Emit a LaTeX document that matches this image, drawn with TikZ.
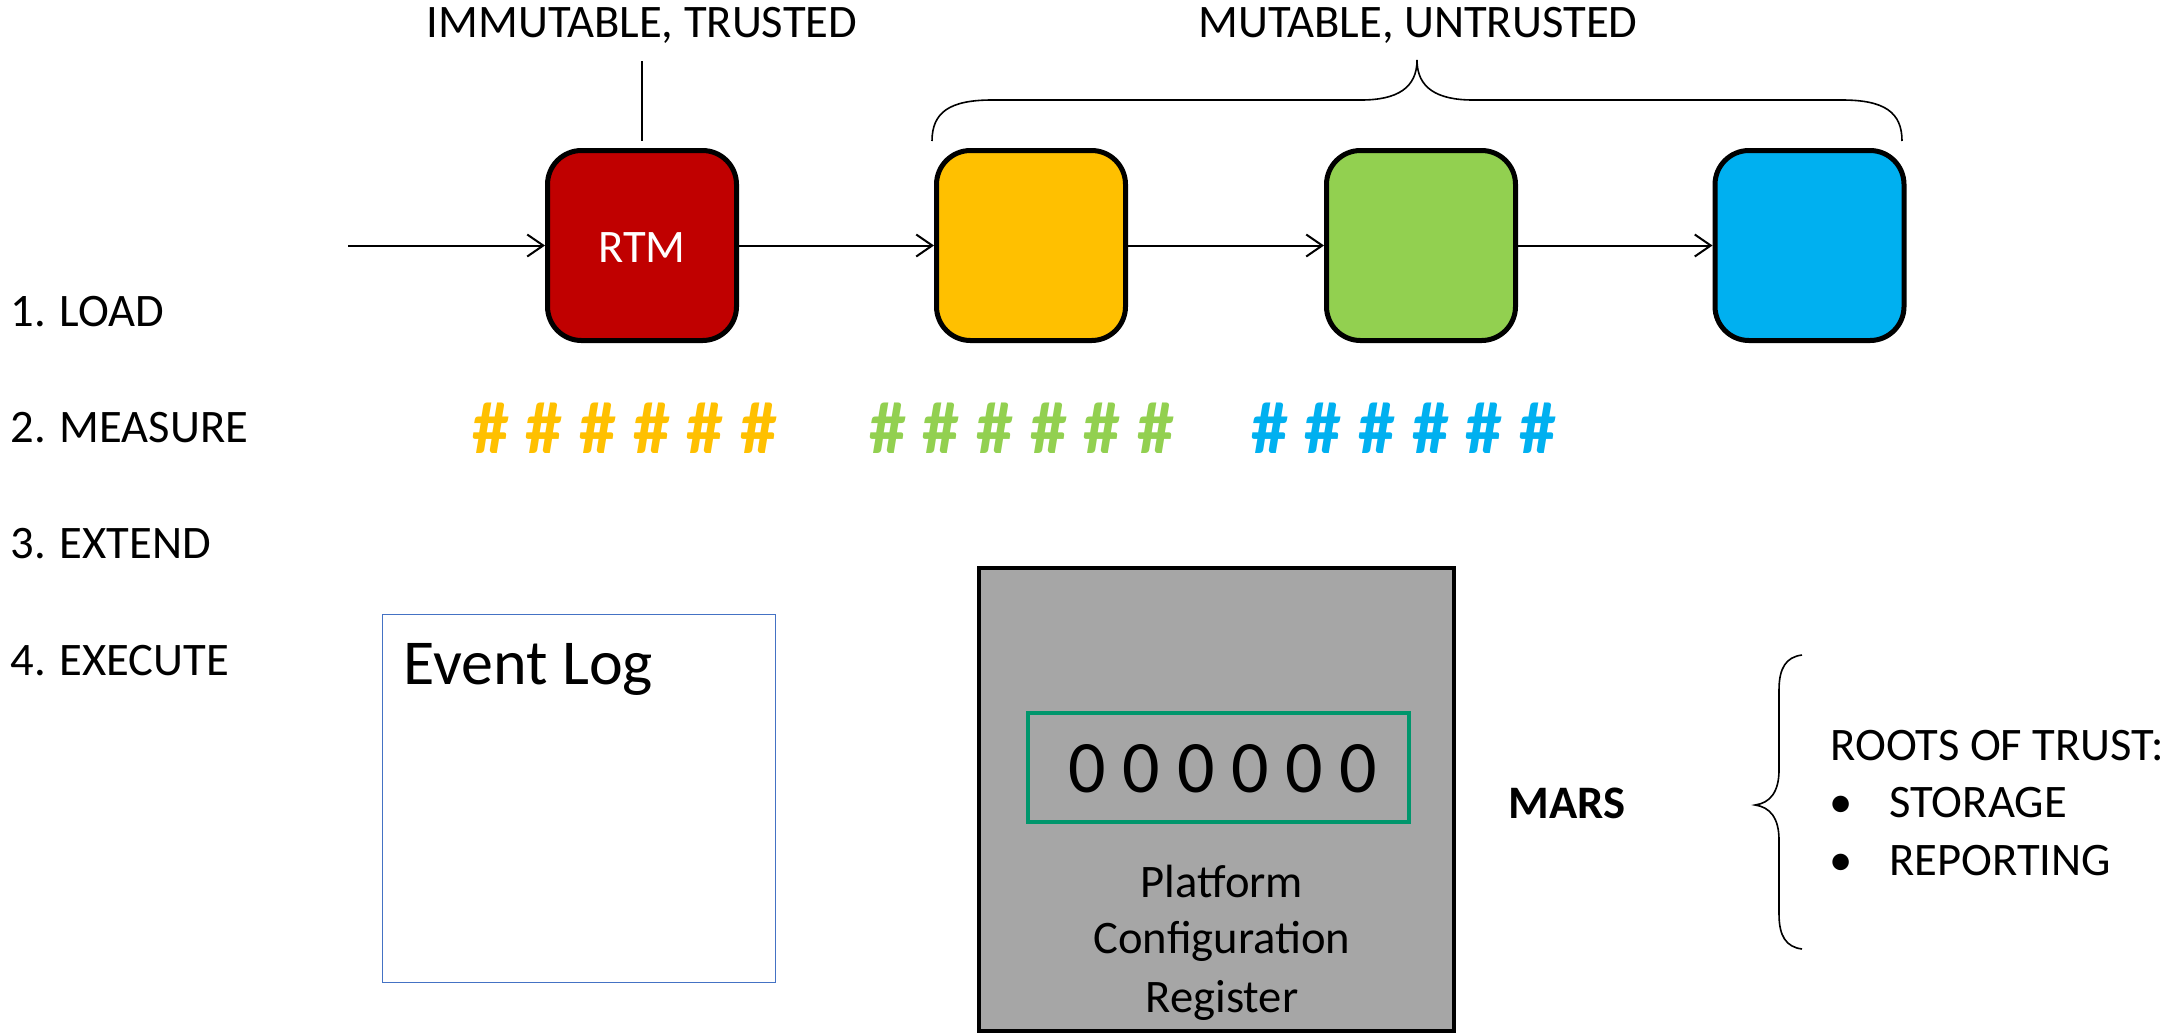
\documentclass[tikz,border=0pt]{standalone}
\usepackage{fontspec}
\setmainfont{Carlito}
\usetikzlibrary{arrows.meta}

\definecolor{rtmred}{RGB}{192,0,0}
\definecolor{stageyellow}{RGB}{255,192,0}
\definecolor{stagegreen}{RGB}{146,208,80}
\definecolor{stageblue}{RGB}{0,176,240}
\definecolor{pcrgray}{RGB}{166,166,166}
\definecolor{pcrgreen}{RGB}{0,150,108}
\definecolor{logblue}{RGB}{68,114,196}

\tikzset{
  lbl/.style={font=\fontsize{23.3}{28}\selectfont, inner sep=0pt, anchor=base west},
  clbl/.style={lbl, anchor=base},
  hashrow/.style={font=\fontsize{37}{44}\selectfont\bfseries, inner sep=0pt, anchor=base west},
  stagebox/.style={draw=black, line width=2.5pt, rounded corners=17pt,
    minimum width=94.5pt, minimum height=95pt, inner sep=0pt},
  flow/.style={line width=1pt, -{Straight Barb[length=8pt,width=11pt,line width=1pt]}},
  thin line/.style={line width=0.8pt},
}

\begin{document}
\begin{tikzpicture}[x=0.5pt, y=-0.5pt]
\useasboundingbox (0,0) rectangle (2177,1035);
\fill[white] (0,0) rectangle (2177,1035);

% step labels
\node[lbl] (load)    at (10,326) {1. LOAD};
\node[lbl] (measure) at (10,442) {2. MEASURE};
\node[lbl] (extend)  at (10,558) {3. EXTEND};
\node[lbl] (execute) at (10,675) {4. EXECUTE};

% top captions
\node[clbl] (immut) at (642,37)  {IMMUTABLE, TRUSTED};
\node[clbl] (mut)   at (1418,37) {MUTABLE, UNTRUSTED};

% boot chain
\node[stagebox, fill=rtmred]      (rtm)    at (642,245.5)  {};
\node[clbl, text=white]           (rtmtxt) at (642,262)    {RTM};
\node[stagebox, fill=stageyellow] (s1)     at (1031,245.5) {};
\node[stagebox, fill=stagegreen]  (s2)     at (1421,245.5) {};
\node[stagebox, fill=stageblue]   (s3)     at (1809.5,245.5) {};

\coordinate (entry) at (348,245.5);
\draw[flow] (entry) -- (rtm.west);
\draw[flow] (rtm.east) -- (s1.west);
\draw[flow] (s1.east) -- (s2.west);
\draw[flow] (s2.east) -- (s3.west);

% tick under the trusted caption
\coordinate (ticktop) at (642,61);
\coordinate (tickbot) at (642,141);
\draw[thin line] (ticktop) -- (tickbot);

% brace over the mutable stages
\coordinate (bl) at (932,141);
\coordinate (btip) at (1417,60);
\coordinate (br) at (1902,141);
\draw[thin line] (bl) .. controls (932,112) and (950,100) .. (992,100)
  -- (1361,100) .. controls (1397,100) and (1417,88) .. (btip)
  .. controls (1417,88) and (1437,100) .. (1473,100)
  -- (1842,100) .. controls (1884,100) and (1902,112) .. (br);

% measurements
\node[hashrow, text=stageyellow] (h1) at (472,453)  {\# \# \# \# \# \#};
\node[hashrow, text=stagegreen]  (h2) at (869,453)  {\# \# \# \# \# \#};
\node[hashrow, text=stageblue]   (h3) at (1251,453) {\# \# \# \# \# \#};

% event log
\node[draw=logblue, line width=0.8pt, minimum width=196.5pt, minimum height=184pt,
      inner sep=0pt] (log) at (579,798.5) {};
\node[font=\fontsize{32}{38}\selectfont, inner sep=0pt, anchor=base west]
      (logtxt) at (403,684) {Event Log};

% platform configuration register
\node[draw=black, fill=pcrgray, line width=2pt, minimum width=237.5pt,
      minimum height=231.5pt, inner sep=0pt] (pcr) at (1216.5,799.5) {};
\node[draw=pcrgreen, line width=2pt, minimum width=190.5pt, minimum height=54.5pt,
      inner sep=0pt] (pcrval) at (1218.5,767.5) {};
\node[font=\fontsize{37}{44}\selectfont, inner sep=0pt, anchor=base]
      (digits) at (1223,792) {0 0 0 0 0 0};
\node[clbl] (pcr1) at (1222,897)  {Platform};
\node[clbl] (pcr2) at (1222,953)  {Configuration};
\node[clbl] (pcr3) at (1222,1012) {Register};

% MARS and roots of trust
\node[lbl, font=\fontsize{23.3}{28}\selectfont\bfseries] (mars) at (1508,818) {MARS};

\coordinate (rbtop) at (1802,655);
\coordinate (rbtip) at (1755,805);
\coordinate (rbbot) at (1802,949);
\draw[thin line] (rbtop) .. controls (1786,657) and (1779,668) .. (1779,690)
  -- (1779,770) .. controls (1779,792) and (1770,803) .. (rbtip)
  .. controls (1770,807) and (1779,818) .. (1779,840)
  -- (1779,914) .. controls (1779,936) and (1786,947) .. (rbbot);

\node[lbl] (roots) at (1830,760) {ROOTS OF TRUST:};
\node[lbl] (b1) at (1829,817) {•};
\node[lbl] (storage) at (1889,817) {STORAGE};
\node[lbl] (b2) at (1829,875) {•};
\node[lbl] (reporting) at (1889,875) {REPORTING};
\end{tikzpicture}
\end{document}
